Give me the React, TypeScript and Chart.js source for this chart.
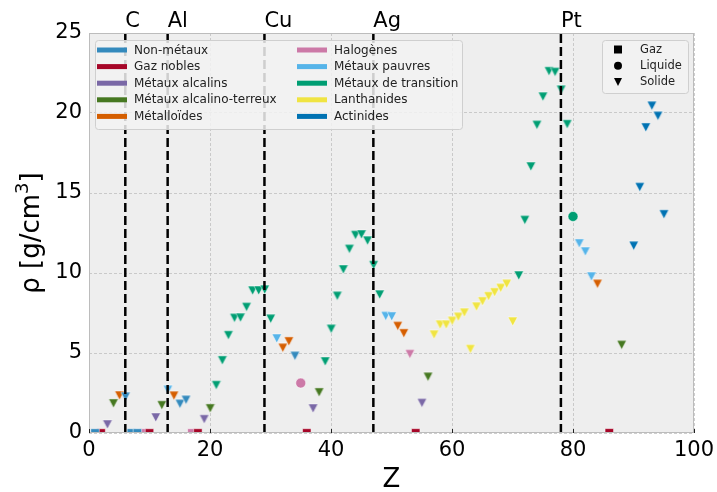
import React, { useEffect, useRef } from "react";
import { Chart, registerables } from "chart.js";

Chart.register(...registerables);

const FONT = "DejaVu Sans";

const categoryLabels = [
  "Non-métaux",
  "Gaz nobles",
  "Métaux alcalins",
  "Métaux alcalino-terreux",
  "Métalloïdes",
  "Halogènes",
  "Métaux pauvres",
  "Métaux de transition",
  "Lanthanides",
  "Actinides",
];
const categoryColors = [
  "#348ABD",
  "#A60628",
  "#7A68A6",
  "#467821",
  "#D55E00",
  "#CC79A7",
  "#56B4E9",
  "#009E73",
  "#F0E442",
  "#0072B2",
];
const stateCodes = ["G", "L", "S"];
const stateLabels = ["Gaz", "Liquide", "Solide"];

// Elements: atomic number, density (g/cm3), category index, state
const atomicNumbers = [
  1, 2, 3, 4, 5, 6, 7, 8, 9, 10,
  11, 12, 13, 14, 15, 16, 17, 18, 19, 20,
  21, 22, 23, 24, 25, 26, 27, 28, 29, 30,
  31, 32, 33, 34, 35, 36, 37, 38, 39, 40,
  41, 42, 43, 44, 45, 46, 47, 48, 49, 50,
  51, 52, 53, 54, 55, 56, 57, 58, 59, 60,
  61, 62, 63, 64, 65, 66, 67, 68, 69, 70,
  71, 72, 73, 74, 75, 76, 77, 78, 79, 80,
  81, 82, 83, 84, 86, 88, 90, 91, 92, 93,
  94, 95,
];
const densities = [
  0.00009, 0.00018, 0.534, 1.85, 2.34, 2.267, 0.00125, 0.00143, 0.0017, 0.0009,
  0.971, 1.738, 2.698, 2.329, 1.82, 2.067, 0.0032, 0.0018, 0.862, 1.54,
  2.989, 4.54, 6.11, 7.19, 7.21, 7.874, 8.9, 8.908, 8.96, 7.14,
  5.907, 5.323, 5.727, 4.819, 3.12, 0.00375, 1.532, 2.54, 4.469, 6.506,
  8.57, 10.22, 11.5, 12.37, 12.41, 12.02, 10.49, 8.65, 7.31, 7.287,
  6.685, 6.232, 4.93, 0.0059, 1.873, 3.51, 6.145, 6.77, 6.773, 7.007,
  7.26, 7.52, 5.243, 7.895, 8.229, 8.55, 8.795, 9.066, 9.321, 6.965,
  9.84, 13.31, 16.654, 19.25, 21.02, 22.61, 22.56, 21.45, 19.3, 13.534,
  11.85, 11.34, 9.78, 9.32, 0.00973, 5.5, 11.7, 15.37, 19.1, 20.45,
  19.82, 13.67,
];
const elementCategories = [
  0, 1, 2, 3, 4, 0, 0, 0, 5, 1,
  2, 3, 6, 4, 0, 0, 5, 1, 2, 3,
  7, 7, 7, 7, 7, 7, 7, 7, 7, 7,
  6, 4, 4, 0, 5, 1, 2, 3, 7, 7,
  7, 7, 7, 7, 7, 7, 7, 7, 6, 6,
  4, 4, 5, 1, 2, 3, 8, 8, 8, 8,
  8, 8, 8, 8, 8, 8, 8, 8, 8, 8,
  7, 7, 7, 7, 7, 7, 7, 7, 7, 7,
  6, 6, 6, 4, 1, 3, 9, 9, 9, 9,
  9, 9,
];
const elementStates = [
  "G", "G", "S", "S", "S", "S", "G", "G", "G", "G",
  "S", "S", "S", "S", "S", "S", "G", "G", "S", "S",
  "S", "S", "S", "S", "S", "S", "S", "S", "S", "S",
  "S", "S", "S", "S", "L", "G", "S", "S", "S", "S",
  "S", "S", "S", "S", "S", "S", "S", "S", "S", "S",
  "S", "S", "S", "G", "S", "S", "S", "S", "S", "S",
  "S", "S", "S", "S", "S", "S", "S", "S", "S", "S",
  "S", "S", "S", "S", "S", "S", "S", "S", "S", "L",
  "S", "S", "S", "S", "G", "S", "S", "S", "S", "S",
  "S", "S",
];

const referenceZ = [6, 13, 29, 47, 78];
const referenceLabels = ["C", "Al", "Cu", "Ag", "Pt"];

const xTickStep = 20;
const yTickStep = 5;

function makeTriangle(color: string, w: number, h: number): HTMLCanvasElement {
  const c = document.createElement("canvas");
  c.width = w + 2;
  c.height = h + 2;
  const g = c.getContext("2d")!;
  g.beginPath();
  g.moveTo(1, 1);
  g.lineTo(w + 1, 1);
  g.lineTo(w / 2 + 1, h + 1);
  g.closePath();
  g.fillStyle = color;
  g.fill();
  g.strokeStyle = "rgba(255,255,255,0.8)";
  g.lineWidth = 0.6;
  g.stroke();
  return c;
}

function drawMarker(ctx: CanvasRenderingContext2D, state: string, x: number, y: number, size: number) {
  ctx.beginPath();
  if (state === "G") {
    ctx.rect(x - size / 2, y - size / 2, size, size);
  } else if (state === "L") {
    ctx.arc(x, y, size / 2, 0, Math.PI * 2);
  } else {
    ctx.moveTo(x - size / 2, y - size / 2);
    ctx.lineTo(x + size / 2, y - size / 2);
    ctx.lineTo(x, y + size / 2);
    ctx.closePath();
  }
  ctx.fill();
}

const decorPlugin = {
  id: "decor",
  beforeDraw(chart: any) {
    const { ctx, chartArea: a } = chart;
    ctx.save();
    ctx.fillStyle = "#ffffff";
    ctx.fillRect(0, 0, chart.width, chart.height);
    ctx.fillStyle = "#eeeeee";
    ctx.fillRect(a.left, a.top, a.right - a.left, a.bottom - a.top);
    ctx.restore();
  },
  afterDraw(chart: any) {
    const { ctx, chartArea: a } = chart;
    const xs = chart.scales.x;
    ctx.save();
    // frame
    ctx.strokeStyle = "#bcbcbc";
    ctx.lineWidth = 1;
    ctx.strokeRect(a.left + 0.5, a.top + 0.5, a.right - a.left - 1, a.bottom - a.top - 1);

    // small inward x ticks
    ctx.strokeStyle = "#222";
    ctx.lineWidth = 1;
    for (let v = 0; v <= 100; v += xTickStep) {
      const px = Math.round(xs.getPixelForValue(v)) + 0.5;
      ctx.beginPath();
      ctx.moveTo(px, a.bottom);
      ctx.lineTo(px, a.bottom - 4);
      ctx.stroke();
    }

    // top labels for reference elements
    ctx.fillStyle = "#000";
    ctx.font = `21px "${FONT}"`;
    ctx.textAlign = "left";
    ctx.textBaseline = "alphabetic";
    referenceZ.forEach((z, i) => {
      ctx.fillText(referenceLabels[i], xs.getPixelForValue(z), 27);
    });

    // axis titles
    ctx.font = `26px "${FONT}"`;
    ctx.textAlign = "center";
    ctx.fillText("Z", (a.left + a.right) / 2, 487);

    // y title with superscript
    const main1 = "ρ [g/cm";
    const sup = "3";
    const main2 = "]";
    ctx.font = `26px "${FONT}"`;
    const w1 = ctx.measureText(main1).width;
    const w3 = ctx.measureText(main2).width;
    ctx.font = `18px "${FONT}"`;
    const w2 = ctx.measureText(sup).width;
    const total = w1 + w2 + w3;
    ctx.translate(39, (a.top + a.bottom) / 2);
    ctx.rotate(-Math.PI / 2);
    ctx.textAlign = "left";
    ctx.font = `26px "${FONT}"`;
    ctx.fillText(main1, -total / 2, 0);
    ctx.font = `18px "${FONT}"`;
    ctx.fillText(sup, -total / 2 + w1, -11);
    ctx.font = `26px "${FONT}"`;
    ctx.fillText(main2, -total / 2 + w1 + w2, 0);
    ctx.setTransform(1, 0, 0, 1, 0, 0);

    // category legend
    const roundRect = (x: number, y: number, w: number, h: number, r: number) => {
      ctx.beginPath();
      ctx.moveTo(x + r, y);
      ctx.lineTo(x + w - r, y);
      ctx.quadraticCurveTo(x + w, y, x + w, y + r);
      ctx.lineTo(x + w, y + h - r);
      ctx.quadraticCurveTo(x + w, y + h, x + w - r, y + h);
      ctx.lineTo(x + r, y + h);
      ctx.quadraticCurveTo(x, y + h, x, y + h - r);
      ctx.lineTo(x, y + r);
      ctx.quadraticCurveTo(x, y, x + r, y);
      ctx.closePath();
    };
    ctx.fillStyle = "rgba(242,242,242,0.85)";
    ctx.strokeStyle = "#cfcfcf";
    ctx.lineWidth = 1;
    roundRect(95.5, 40.5, 367, 89, 3);
    ctx.fill();
    ctx.stroke();
    ctx.font = `12px "${FONT}"`;
    ctx.textBaseline = "middle";
    ctx.textAlign = "left";
    categoryLabels.forEach((lab, i) => {
      const col = Math.floor(i / 5);
      const row = i % 5;
      const px = col === 0 ? 97 : 297;
      const py = 50 + row * 16.6;
      ctx.fillStyle = categoryColors[i];
      ctx.fillRect(px, py - 2.5, 30, 5);
      ctx.fillStyle = "#222";
      ctx.fillText(lab, px + 37, py + 0.5);
    });

    // state legend
    ctx.fillStyle = "rgba(242,242,242,0.85)";
    ctx.strokeStyle = "#cfcfcf";
    roundRect(602.5, 40.5, 86, 53, 3);
    ctx.fill();
    ctx.stroke();
    ctx.font = `11.5px "${FONT}"`;
    stateCodes.forEach((s, i) => {
      const py = 49.5 + i * 16.2;
      ctx.fillStyle = "#000";
      drawMarker(ctx, s, 618, py, 8);
      ctx.fillStyle = "#222";
      ctx.fillText(stateLabels[i], 640, py + 0.5);
    });
    ctx.restore();
  },
};

export default function App() {
  const ref = useRef<HTMLCanvasElement | null>(null);
  useEffect(() => {
    if (!ref.current) return;
    const scatterSets = categoryLabels.map((label, c) => {
      const idx = atomicNumbers.map((_, i) => i).filter((i) => elementCategories[i] === c);
      const tri = makeTriangle(categoryColors[c], 9.5, 9);
      return {
        type: "scatter" as const,
        label,
        data: idx.map((i) => ({ x: atomicNumbers[i], y: densities[i] })),
        pointBackgroundColor: categoryColors[c],
        pointBorderColor: "rgba(255,255,255,0.85)",
        pointBorderWidth: 0.6,
        pointStyle: idx.map((i) => (elementStates[i] === "G" ? "rect" : elementStates[i] === "L" ? "circle" : tri)),
        pointRadius: idx.map((i) => (elementStates[i] === "G" ? 6 : 5)),
        showLine: false,
        clip: 0,
        order: 2,
      };
    });
    const lineSets = referenceZ.map((z, k) => ({
      type: "line" as const,
      label: referenceLabels[k],
      data: [
        { x: z, y: 0 },
        { x: z, y: 25 },
      ],
      borderColor: "#000",
      borderWidth: 2.5,
      borderDash: [9, 4],
      pointRadius: 0,
      fill: false,
      clip: 0,
      order: 0,
    }));
    const chart = new Chart(ref.current, {
      type: "scatter",
      data: { datasets: [...lineSets, ...scatterSets] as any },
      plugins: [decorPlugin],
      options: {
        animation: false,
        responsive: false,
        devicePixelRatio: 1,
        layout: { padding: { top: 33, right: 23, left: 0, bottom: 0 } },
        plugins: { legend: { display: false }, tooltip: { enabled: false } },
        events: [],
        scales: {
          x: {
            type: "linear",
            min: 0,
            max: 100,
            afterFit: (s: any) => {
              s.height = 59;
              s.paddingLeft = 0;
              s.paddingRight = 0;
            },
            ticks: {
              stepSize: xTickStep,
              font: { family: FONT, size: 21 },
              color: "#000",
              padding: 5,
              maxRotation: 0,
            },
            grid: { color: "#b9b9b9", lineWidth: 0.7, drawTicks: false },
            border: { display: false, dash: [3, 2] },
          },
          y: {
            type: "linear",
            min: 0,
            max: 25,
            afterFit: (s: any) => {
              s.width = 89;
              s.paddingTop = 0;
              s.paddingBottom = 0;
            },
            ticks: {
              stepSize: yTickStep,
              font: { family: FONT, size: 21 },
              color: "#000",
              padding: 7,
            },
            grid: { color: "#b9b9b9", lineWidth: 0.7, drawTicks: false },
            border: { display: false, dash: [3, 2] },
          },
        },
      },
    });
    return () => chart.destroy();
  }, []);
  return (
    <div style={{ position: "fixed", left: 0, top: 0, width: 717, height: 492 }}>
      <canvas ref={ref} width={717} height={492} />
    </div>
  );
}
